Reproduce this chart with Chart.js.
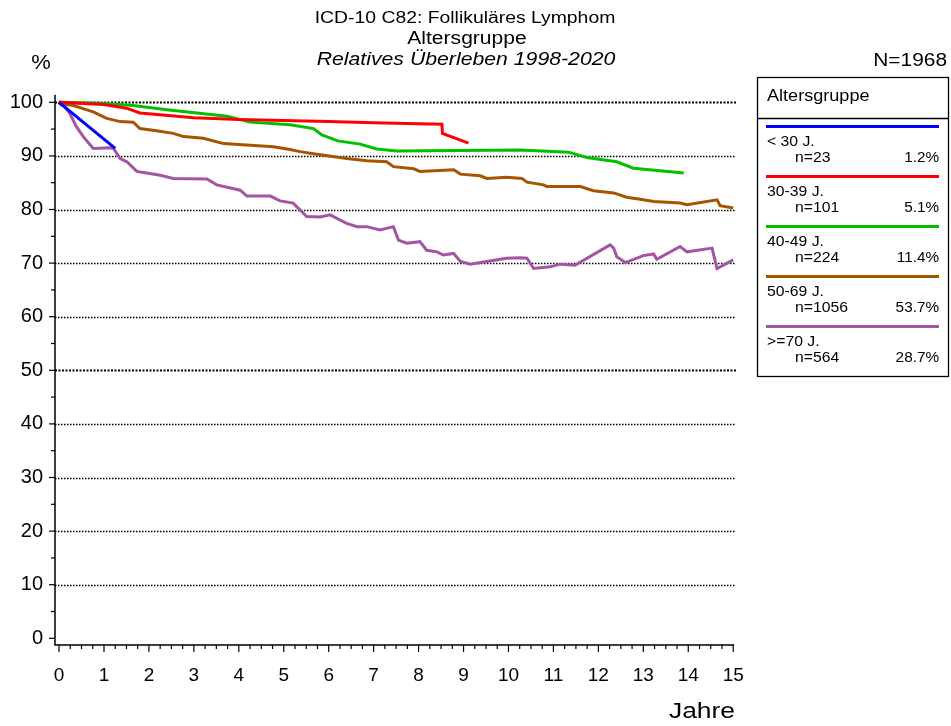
<!DOCTYPE html>
<html>
<head>
<meta charset="utf-8">
<script src="https://cdn.jsdelivr.net/npm/chart.js@4/dist/chart.umd.min.js"></script>
<style>
  html, body { margin: 0; padding: 0; background: #fff; }
  #wrap { width: 951px; height: 726px; }
</style>
</head>
<body>
<div id="wrap"><canvas id="chart" width="951" height="726"></canvas></div>
<script>
// --- data ---
const groupLabels = ['< 30 J.', '30-39 J.', '40-49 J.', '50-69 J.', '>=70 J.'];
const groupCounts = [23, 101, 224, 1056, 564];
const groupShares = ['1.2%', '5.1%', '11.4%', '53.7%', '28.7%'];
const groupColors = ['#0000ff', '#ff0000', '#00c000', '#a65400', '#a355a3'];

const yearsU30 = [0, 1.25];
const survU30 = [100, 91.4];

const years3039 = [0, 1.0, 1.5, 1.8, 3.0, 4.0, 5.0, 6.0, 7.0, 8.0, 8.52, 8.53, 9.11];
const surv3039 = [100, 99.6, 98.9, 98.0, 97.1, 96.8, 96.6, 96.4, 96.2, 96.0, 95.9, 94.2, 92.4];

const years4049 = [0, 1.0, 1.65, 2.4, 3.07, 3.74, 4.25, 5.14, 5.66, 5.85, 6.2, 6.7, 7.07, 7.52, 10.26, 11.34, 11.74, 12.41, 12.78, 13.9];
const surv4049 = [100, 99.8, 99.4, 98.6, 98.0, 97.4, 96.3, 95.8, 95.1, 93.9, 92.8, 92.2, 91.3, 90.9, 91.1, 90.7, 89.7, 88.9, 87.7, 86.8];

const years5069 = [0, 0.02, 0.32, 0.62, 0.76, 1.06, 1.36, 1.65, 1.8, 2.17, 2.54, 2.77, 3.21, 3.66, 4.25, 4.77, 5.14, 5.36, 5.66, 6.4, 6.85, 7.29, 7.44, 7.89, 8.03, 8.78, 8.93, 9.37, 9.52, 9.96, 10.3, 10.41, 10.78, 10.85, 11.6, 11.89, 12.34, 12.63, 12.93, 13.23, 13.82, 13.97, 14.64, 14.71, 15.0];
const surv5069 = [100, 99.8, 99.4, 98.6, 98.2, 97.0, 96.4, 96.3, 95.1, 94.7, 94.2, 93.6, 93.3, 92.3, 92.0, 91.7, 91.2, 90.8, 90.4, 89.5, 89.1, 88.9, 88.0, 87.6, 87.1, 87.4, 86.6, 86.3, 85.8, 86.0, 85.8, 85.1, 84.6, 84.3, 84.3, 83.5, 83.1, 82.3, 81.9, 81.5, 81.2, 80.9, 81.8, 80.7, 80.3];

const years70 = [0, 0.1, 0.24, 0.39, 0.54, 0.76, 1.14, 1.21, 1.36, 1.51, 1.73, 1.95, 2.25, 2.54, 3.29, 3.51, 4.03, 4.18, 4.7, 4.92, 5.21, 5.51, 5.81, 6.03, 6.4, 6.63, 6.85, 7.14, 7.44, 7.55, 7.74, 8.03, 8.18, 8.41, 8.55, 8.78, 8.93, 9.15, 9.52, 9.96, 10.26, 10.41, 10.56, 10.93, 11.15, 11.48, 12.26, 12.34, 12.41, 12.6, 13.0, 13.23, 13.3, 13.82, 13.97, 14.53, 14.64, 15.0];
const surv70 = [100, 99.5, 97.9, 95.4, 93.6, 91.4, 91.5, 91.4, 89.5, 88.9, 87.1, 86.8, 86.4, 85.8, 85.7, 84.6, 83.6, 82.5, 82.5, 81.6, 81.2, 78.7, 78.6, 79.0, 77.4, 76.8, 76.8, 76.2, 76.8, 74.3, 73.7, 74.0, 72.4, 72.1, 71.5, 71.8, 70.3, 69.8, 70.3, 70.9, 71.0, 70.9, 69.0, 69.3, 69.8, 69.6, 73.4, 72.8, 71.2, 70.1, 71.4, 71.7, 70.7, 73.1, 72.1, 72.8, 69.0, 70.6];

const xTickValues = [0, 1, 2, 3, 4, 5, 6, 7, 8, 9, 10, 11, 12, 13, 14, 15];
const yTickValues = [0, 10, 20, 30, 40, 50, 60, 70, 80, 90, 100];

const FONT = "'Liberation Sans', Arial, sans-serif";

function toPoints(xs, ys) {
  return xs.map((x, i) => ({ x: x, y: ys[i] }));
}

// text in the original is a bit wider than Arial, so stretch it horizontally
function stretchText(ctx, text, x, y, font, align, sx) {
  ctx.save();
  ctx.font = font;
  ctx.textAlign = align;
  ctx.translate(x, y);
  ctx.scale(sx, 1);
  ctx.fillText(text, 0, 0);
  ctx.restore();
}

const seriesX = [yearsU30, years3039, years4049, years5069, years70];
const seriesY = [survU30, surv3039, surv4049, surv5069, surv70];

const datasets = groupLabels.map((label, i) => ({
  label: label,
  data: toPoints(seriesX[i], seriesY[i]),
  borderColor: groupColors[i],
  backgroundColor: groupColors[i],
  borderWidth: 3,
  pointRadius: 0,
  tension: 0,
  fill: false
}));

// axes, ticks and dotted grid drawn on top of Chart.js scales
const framePlugin = {
  id: 'frame',
  beforeDatasetsDraw(chart) {
    const ctx = chart.ctx;
    const xs = chart.scales.x, ys = chart.scales.y;
    const area = chart.chartArea;
    ctx.save();
    // dotted grid
    yTickValues.forEach(v => {
      if (v === 0) return;
      const py = Math.round(ys.getPixelForValue(v)) + 0.5;
      const bold = (v === 50 || v === 100);
      ctx.beginPath();
      ctx.setLineDash(bold ? [2, 1.5] : [1.5, 1.5]);
      ctx.lineWidth = bold ? 2 : 1.3;
      ctx.strokeStyle = '#000';
      ctx.moveTo(area.left, py);
      ctx.lineTo(area.right + 1, py);
      ctx.stroke();
    });
    ctx.setLineDash([]);
    ctx.strokeStyle = '#000';
    ctx.lineWidth = 1.5;
    // axis lines
    ctx.beginPath();
    ctx.moveTo(area.left, area.top);
    ctx.lineTo(area.left, area.bottom);
    ctx.lineTo(xs.getPixelForValue(15) + 1, area.bottom);
    ctx.stroke();
    // y ticks
    ctx.lineWidth = 1.2;
    for (let v = 0; v <= 100; v += 5) {
      const py = ys.getPixelForValue(v);
      const len = v % 10 === 0 ? 6 : 4;
      ctx.beginPath();
      ctx.moveTo(area.left, py);
      ctx.lineTo(area.left - len, py);
      ctx.stroke();
    }
    // x ticks
    for (let q = 0; q <= 60; q++) {
      const px = xs.getPixelForValue(q / 4);
      const len = q % 4 === 0 ? 7 : 4;
      ctx.beginPath();
      ctx.moveTo(px, area.bottom);
      ctx.lineTo(px, area.bottom + len);
      ctx.stroke();
    }
    ctx.restore();
  },
  afterDraw(chart) {
    const ctx = chart.ctx;
    ctx.save();
    ctx.fillStyle = '#000';
    ctx.textBaseline = 'middle';
    // titles
    stretchText(ctx, 'ICD-10 C82: Follikuläres Lymphom', 465, 19, '16px ' + FONT, 'center', 1.21);
    stretchText(ctx, 'Altersgruppe', 467, 39, '18px ' + FONT, 'center', 1.17);
    stretchText(ctx, 'Relatives Überleben 1998-2020', 466, 60, 'italic 18px ' + FONT, 'center', 1.18);
    stretchText(ctx, '%', 41, 63, '20px ' + FONT, 'center', 1.1);
    stretchText(ctx, 'N=1968', 947, 61, '18px ' + FONT, 'right', 1.16);
    stretchText(ctx, 'Jahre', 735, 712, '22px ' + FONT, 'right', 1.2);

    // legend box
    const bx = 757, by = 77, bw = 191, bh = 299;
    ctx.lineWidth = 1.3;
    ctx.strokeStyle = '#000';
    ctx.strokeRect(bx + 0.5, by + 0.5, bw, bh);
    ctx.beginPath();
    ctx.moveTo(bx, 118.5);
    ctx.lineTo(bx + bw, 118.5);
    ctx.stroke();
    stretchText(ctx, 'Altersgruppe', 767, 97, '16px ' + FONT, 'left', 1.13);
    groupLabels.forEach((label, i) => {
      const ly = 126.5 + i * 50;
      ctx.strokeStyle = groupColors[i];
      ctx.lineWidth = 3;
      ctx.beginPath();
      ctx.moveTo(766, ly);
      ctx.lineTo(939, ly);
      ctx.stroke();
      stretchText(ctx, label, 767, ly + 15, '15px ' + FONT, 'left', 1.05);
      stretchText(ctx, 'n=' + groupCounts[i], 795, ly + 31, '15px ' + FONT, 'left', 1.05);
      stretchText(ctx, groupShares[i], 939, ly + 31, '15px ' + FONT, 'right', 1.02);
    });
    ctx.restore();
  }
};

new Chart(document.getElementById('chart'), {
  type: 'line',
  data: { datasets: datasets },
  options: {
    responsive: false,
    animation: false,
    layout: { padding: { top: 94.8, right: 216, left: 0, bottom: 0 } },
    plugins: {
      legend: { display: false },
      tooltip: { enabled: false },
      title: { display: false }
    },
    scales: {
      x: {
        type: 'linear',
        min: -0.09,
        max: 15.04,
        grid: { display: false, drawTicks: false },
        border: { display: false },
        afterBuildTicks: scale => { scale.ticks = xTickValues.map(v => ({ value: v })); },
        afterFit: scale => { scale.height = 81; },
        ticks: {
          color: '#000',
          font: { family: FONT, size: 19 },
          padding: 19,
          maxRotation: 0,
          autoSkip: false
        }
      },
      y: {
        type: 'linear',
        min: -1.25,
        max: 101.4,
        grid: { display: false, drawTicks: false },
        border: { display: false },
        afterBuildTicks: scale => { scale.ticks = yTickValues.map(v => ({ value: v })); },
        afterFit: scale => { scale.width = 55; },
        ticks: {
          color: '#000',
          font: { family: FONT, size: 20 },
          padding: 12
        }
      }
    }
  },
  plugins: [framePlugin]
});
</script>
</body>
</html>
